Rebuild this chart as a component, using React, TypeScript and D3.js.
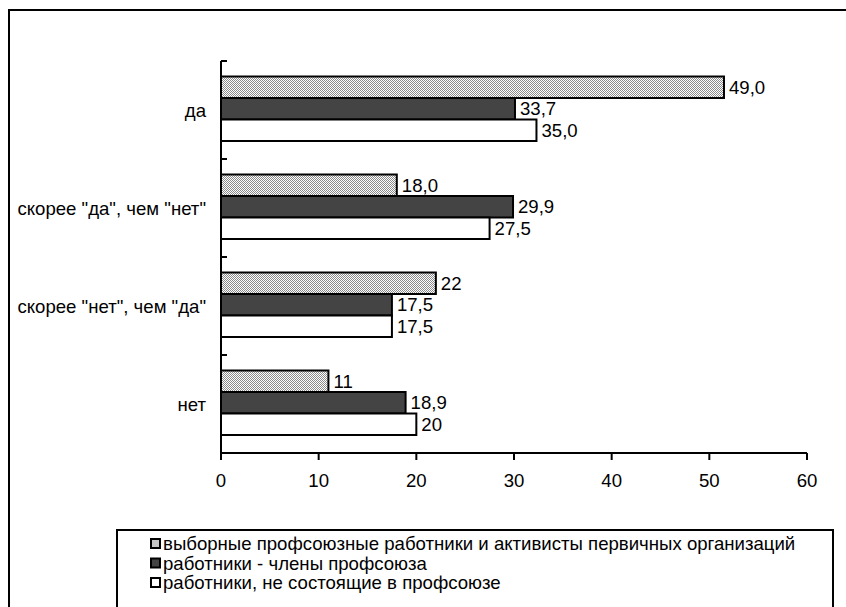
import React from "react";
import * as d3 from "d3";

const categories = ["да", "скорее \"да\", чем \"нет\"", "скорее \"нет\", чем \"да\"", "нет"];
const seriesNames = [
  "выборные профсоюзные работники и активисты первичных организаций",
  "работники - члены профсоюза",
  "работники, не состоящие в профсоюзе",
];
// bar lengths as drawn in the picture
const activists = [51.5, 18.0, 22, 11];
const members = [30.1, 29.9, 17.5, 18.9];
const nonMembers = [32.3, 27.5, 17.5, 20];
// data labels as printed in the picture
const activistLabels = ["49,0", "18,0", "22", "11"];
const memberLabels = ["33,7", "29,9", "17,5", "18,9"];
const nonMemberLabels = ["35,0", "27,5", "17,5", "20"];
const xTicks = [0, 10, 20, 30, 40, 50, 60];

const W = 846;
const H = 607;

export default function App() {
  const x = d3.scaleLinear().domain([0, 60]).range([221, 807]);
  const y = d3.scaleBand<string>().domain(categories).range([61, 453]);
  const series = [
    { name: seriesNames[0], values: activists, labels: activistLabels, fill: "url(#dots)" },
    { name: seriesNames[1], values: members, labels: memberLabels, fill: "#444444" },
    { name: seriesNames[2], values: nonMembers, labels: nonMemberLabels, fill: "#ffffff" },
  ];
  const barH = 21.5;
  const offTop = 15.5;
  const fs = 18.6;
  const axisY = 453;
  const font = "Liberation Sans, Arial, sans-serif";
  return (
    <svg width={W} height={H} style={{ position: "absolute", left: 0, top: 0 }} fontFamily={font}>
      <defs>
        <pattern id="dots" width="2" height="2" patternUnits="userSpaceOnUse">
          <rect width="2" height="2" fill="#ffffff" />
          <rect width="1" height="1" fill="#8a8a8a" />
          <rect x="1" y="1" width="1" height="1" fill="#8a8a8a" />
        </pattern>
      </defs>
      <rect x={0} y={0} width={W} height={H} fill="#fff" />
      <path d={`M9,${H} V10 H${W}`} fill="none" stroke="#000" strokeWidth={2} />
      {categories.map((c, ci) =>
        series.map((s, si) => {
          const y0 = (y(c) as number) + offTop + si * barH;
          return (
            <g key={`${ci}-${si}`}>
              <rect
                x={x(0)}
                y={y0}
                width={x(s.values[ci]) - x(0)}
                height={barH}
                fill={s.fill}
                stroke="#000"
                strokeWidth={2}
              />
              <text x={x(s.values[ci]) + 5} y={y0 + barH / 2} dy="0.35em" fontSize={fs}>
                {s.labels[ci]}
              </text>
            </g>
          );
        })
      )}
      {/* y axis */}
      <line x1={x(0)} x2={x(0)} y1={61} y2={axisY} stroke="#000" strokeWidth={2} />
      {categories.map((c, i) => (
        <line key={"yt" + i} x1={x(0)} x2={x(0) + 6} y1={y(c)} y2={y(c)} stroke="#000" strokeWidth={2} />
      ))}
      {categories.map((c) => (
        <text key={"yl" + c} x={x(0) - 15} y={(y(c) as number) + y.bandwidth() / 2} dy="0.35em" textAnchor="end" fontSize={fs}>
          {c}
        </text>
      ))}
      {/* x axis */}
      <line x1={x(0)} x2={x(60)} y1={axisY} y2={axisY} stroke="#000" strokeWidth={2} />
      {xTicks.map((t) => (
        <g key={"xt" + t}>
          <line x1={x(t)} x2={x(t)} y1={axisY} y2={axisY + 7} stroke="#000" strokeWidth={2} />
          <text x={x(t)} y={480} textAnchor="middle" fontSize={fs} dy="0.35em">
            {t}
          </text>
        </g>
      ))}
      {/* legend */}
      <path d={`M117,${H} V530 H833 V${H}`} fill="none" stroke="#000" strokeWidth={2} />
      {series.map((s, i) => (
        <g key={"lg" + i} transform={`translate(151, ${543.5 + i * 19.5})`}>
          <rect x={0} y={-4.5} width={9} height={9} fill={s.fill} stroke="#000" strokeWidth={2} />
          <text x={12} y={0} dy="0.35em" fontSize={fs}>
            {s.name}
          </text>
        </g>
      ))}
    </svg>
  );
}
